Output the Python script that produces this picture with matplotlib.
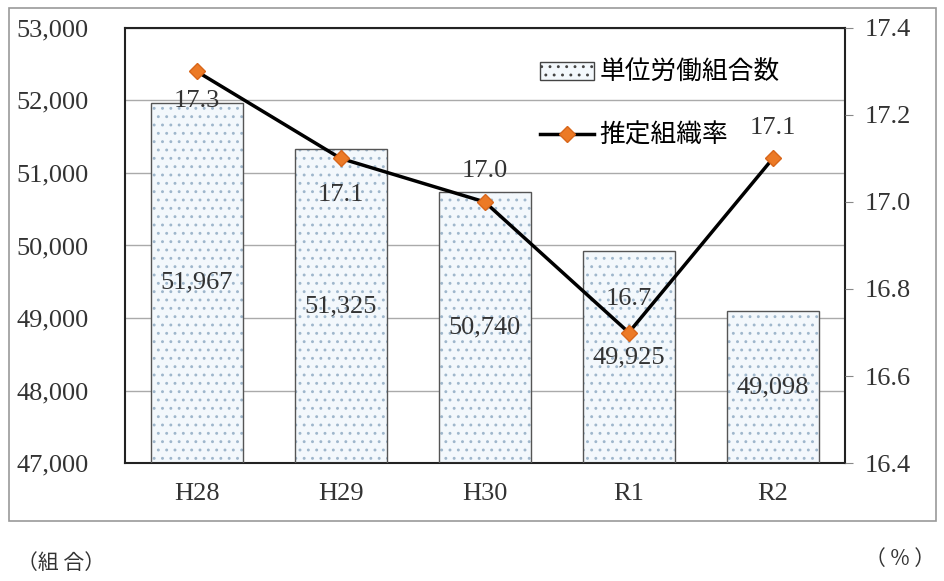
import matplotlib.pyplot as plt
from matplotlib.patches import Rectangle, Patch
from matplotlib.lines import Line2D

plt.rcParams['font.family'] = ['Liberation Serif', 'Noto Sans CJK JP']
plt.rcParams['hatch.linewidth'] = 0.9

years = ['H28', 'H29', 'H30', 'R1', 'R2']
unions = [51967, 51325, 50740, 49925, 49098]
rate = [17.3, 17.1, 17.0, 16.7, 17.1]
union_labels = ['51,967', '51,325', '50,740', '49,925', '49,098']
rate_labels = ['17.3', '17.1', '17.0', '16.7', '17.1']
left_ticks = [47000, 48000, 49000, 50000, 51000, 52000, 53000]
right_ticks = [16.4, 16.6, 16.8, 17.0, 17.2, 17.4]

fig = plt.figure(figsize=(9.45, 5.81), dpi=100)
ax = fig.add_axes([0.132, 0.203, 0.762, 0.749])
x = range(len(years))

# 棒グラフ（ドット模様）
ax.bar(x, [u - 47000 for u in unions], bottom=47000, width=0.64,
       color='#f3f8fc', edgecolor='#9fb7cc', hatch='..', linewidth=0, zorder=2)
ax.bar(x, [u - 47000 for u in unions], bottom=47000, width=0.64,
       fill=False, edgecolor='#555555', linewidth=1.0, zorder=3)
for i, u in enumerate(unions):
    ax.text(i, (u + 47000) / 2, union_labels[i], ha='center', va='center',
            fontsize=19, color='#333333', zorder=5)

ax.set_ylim(47000, 53000)
ax.set_xlim(-0.5, 4.5)
ax.set_yticks(left_ticks)
ax.set_yticklabels([f'{t:,}' for t in left_ticks])
ax.set_xticks(list(x))
ax.set_xticklabels(years)
ax.tick_params(axis='y', length=0, labelsize=19, colors='#333333', pad=26)
ax.tick_params(axis='x', length=0, labelsize=19, colors='#333333', pad=14)
ax.grid(axis='y', color='#aaaaaa', linewidth=1.0, zorder=0)
for s in ax.spines.values():
    s.set_color('#222222')
    s.set_linewidth(1.5)

# 折れ線（推定組織率）
ax2 = ax.twinx()
ax2.plot(list(x), rate, color='black', linewidth=2.5, marker='D', markersize=8,
         markerfacecolor='#ec7a26', markeredgecolor='#d8661a', zorder=6)
ax2.set_ylim(16.4, 17.4)
ax2.set_yticks(right_ticks)
ax2.set_yticklabels([f'{t:.1f}' for t in right_ticks])
ax2.tick_params(axis='y', length=6, colors='#888888', labelcolor='#333333',
                labelsize=19, pad=8)
for s in ax2.spines.values():
    s.set_visible(False)
offsets = [-0.069, -0.085, 0.071, 0.078, 0.071]
for i, r in enumerate(rate):
    ax2.text(i, r + offsets[i], rate_labels[i], ha='center', va='center',
             fontsize=19, color='#333333', zorder=7)

# 凡例
handles = [Patch(facecolor='#f3f8fc', edgecolor='#444444', hatch='..'),
           Line2D([0], [0], color='black', linewidth=2.5, marker='D', markersize=8,
                  markerfacecolor='#ec7a26', markeredgecolor='#d8661a')]
leg = ax2.legend(handles, ['単位労働組合数', '推定組織率'], loc='upper left',
                 bbox_to_anchor=(0.545, 0.98), frameon=False,
                 labelspacing=1.45, handlelength=2.1, handletextpad=0.2,
                 prop={'family': ['Noto Sans CJK JP'], 'size': 18.5})

fig.text(0.018, 0.02, '（組 合）', fontsize=15, family=['Noto Sans CJK JP'],
         color='#333333')
fig.text(0.99, 0.028, '（ % ）', fontsize=15, family=['Noto Sans CJK JP'],
         color='#333333', ha='right')

fig.patches.append(Rectangle((0.009, 0.103), 0.981, 0.884, transform=fig.transFigure,
                             fill=False, edgecolor='#999999', linewidth=1.2))

fig.savefig('out.png', dpi=100)
